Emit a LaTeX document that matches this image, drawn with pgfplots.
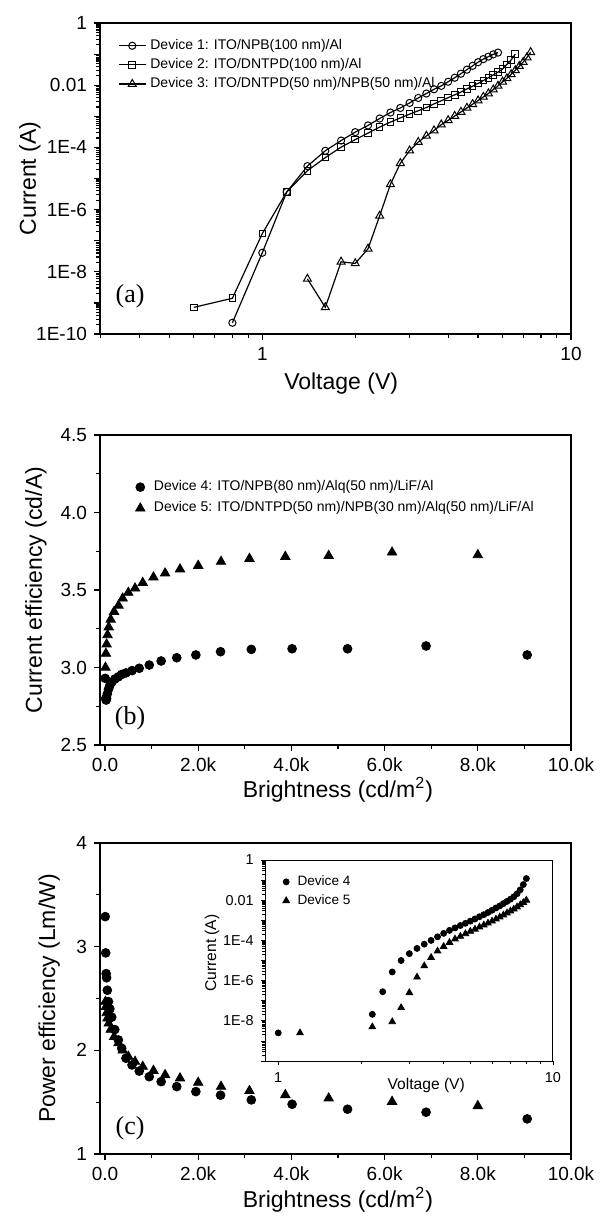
\documentclass[border=0pt]{standalone}
\usepackage{fontspec}
\setmainfont{Liberation Sans}
\newfontfamily\tmfont{Liberation Serif}
\usepackage{pgfplots}
\pgfplotsset{compat=1.18}
\pgfplotsset{
  common/.style={
    scale only axis, anchor=north west,
    axis line style={line width=0.7pt},
    every tick/.style={line width=0.6pt, black},
    tick align=outside, xtick pos=bottom, ytick pos=left,
    major tick length=3pt, minor tick length=1.8pt,
    tick label style={font=\fontsize{9.5}{11}\selectfont},
    label style={font=\fontsize{11.5}{13}\selectfont},
    /pgf/number format/assume math mode=true,
    scaled x ticks=false, scaled y ticks=false,
    every axis plot/.append style={black},
  },
  logminor/.style={minor ytick={2e-10,3e-10,4e-10,5e-10,6e-10,7e-10,8e-10,9e-10,
    2e-9,3e-9,4e-9,5e-9,6e-9,7e-9,8e-9,9e-9,
    2e-8,3e-8,4e-8,5e-8,6e-8,7e-8,8e-8,9e-8,
    2e-7,3e-7,4e-7,5e-7,6e-7,7e-7,8e-7,9e-7,
    2e-6,3e-6,4e-6,5e-6,6e-6,7e-6,8e-6,9e-6,
    2e-5,3e-5,4e-5,5e-5,6e-5,7e-5,8e-5,9e-5,
    2e-4,3e-4,4e-4,5e-4,6e-4,7e-4,8e-4,9e-4,
    2e-3,3e-3,4e-3,5e-3,6e-3,7e-3,8e-3,9e-3,
    2e-2,3e-2,4e-2,5e-2,6e-2,7e-2,8e-2,9e-2,
    0.2,0.3,0.4,0.5,0.6,0.7,0.8,0.9}},
  brightx/.style={xmin=-107, xmax=10000,
    xtick={0,2000,4000,6000,8000,10000},
    xticklabels={0.0,2.0k,4.0k,6.0k,8.0k,10.0k},
    minor xtick={1000,3000,5000,7000,9000},
    xlabel={Brightness (cd/m\textsuperscript{2})}},
}
\begin{document}
\begin{tikzpicture}
\useasboundingbox (0,0) rectangle (300pt,-608pt);
% ---------------- (a)
\begin{axis}[common, at={(50pt,-11.5pt)}, width=235.5pt, height=155.5pt,
  xmode=log, ymode=log, xmin=0.298, xmax=10, ymin=1e-10, ymax=1,
  xtick={1,10}, xticklabels={1,10},
  minor xtick={0.3,0.4,0.5,0.6,0.7,0.8,0.9,2,3,4,5,6,7,8,9},
  ytick={1e-10,1e-9,1e-8,1e-7,1e-6,1e-5,1e-4,1e-3,1e-2,1e-1,1},
  yticklabels={1E-10,,1E-8,,1E-6,,1E-4,,0.01,,1}, logminor,
  xlabel={Voltage (V)}, ylabel={Current (A)},
  xlabel style={at={(axis description cs:0.512,-0.158)}, anchor=center},
  ylabel style={at={(axis description cs:-0.149,0.5)}, anchor=center},
  legend style={at={(axis description cs:0.025,0.975)}, anchor=north west,
    draw=none, fill=none, font=\fontsize{7}{8}\selectfont, row sep=-1pt,
    cells={anchor=west}},
  legend image code/.code={\draw[#1, mark repeat=2, mark phase=2] plot coordinates {(0pt,0pt) (6.75pt,0pt) (13.5pt,0pt)};},
]
\addplot[line width=0.6pt, mark=o, mark size=1.8pt, mark options={fill=white, line width=0.5pt}] coordinates {
(0.8,2.3e-10) (1.0,4.1e-8) (1.2,3.7e-6) (1.4,2.5e-5) (1.6,7.8e-5) (1.8,1.66e-4)
(2.0,3.1e-4) (2.2,5.1e-4) (2.4,8.5e-4) (2.6,1.32e-3) (2.8,1.86e-3) (3.0,2.69e-3)
(3.2,3.9e-3) (3.4,5.4e-3) (3.6,7.4e-3) (3.8,9.5e-3) (4.0,1.29e-2) (4.2,1.74e-2)
(4.4,2.34e-2) (4.6,3.16e-2) (4.8,4.2e-2) (5.0,5.5e-2) (5.2,6.9e-2) (5.4,8.3e-2)
(5.6,9.8e-2) (5.8,1.12e-1)};
\addlegendentry{Device 1: ITO/NPB(100 nm)/Al}
\addplot[line width=0.6pt, mark=square, mark size=1.65pt, mark options={fill=white, line width=0.5pt}] coordinates {
(0.6,7.2e-10) (0.8,1.41e-9) (1.0,1.7e-7) (1.2,3.7e-6) (1.4,1.78e-5) (1.6,4.7e-5)
(1.8,1.02e-4) (2.0,1.78e-4) (2.2,2.88e-4) (2.4,4.5e-4) (2.6,6.5e-4) (2.8,8.9e-4)
(3.0,1.17e-3) (3.2,1.51e-3) (3.4,1.91e-3) (3.6,2.51e-3) (3.8,3.16e-3) (4.0,3.98e-3)
(4.2,4.9e-3) (4.4,6.0e-3) (4.6,7.6e-3) (4.8,9.3e-3) (5.0,1.15e-2) (5.2,1.41e-2)
(5.4,1.74e-2) (5.6,2.14e-2) (5.8,2.63e-2) (6.0,3.3e-2) (6.2,4.7e-2) (6.4,6.5e-2)
(6.6,1.0e-1)};
\addlegendentry{Device 2: ITO/DNTPD(100 nm)/Al}
\addplot[line width=0.6pt, mark=triangle, mark size=2.3pt, mark options={fill=white, line width=0.5pt}] coordinates {
(1.4,5.9e-9) (1.6,7.2e-10) (1.8,2.1e-8) (2.0,1.86e-8) (2.2,5.5e-8) (2.4,6.3e-7)
(2.6,6.5e-6) (2.8,3.1e-5) (3.0,7.9e-5) (3.2,1.48e-4) (3.4,2.34e-4) (3.6,3.5e-4)
(3.8,5.4e-4) (4.0,7.4e-4) (4.2,1.02e-3) (4.4,1.38e-3) (4.6,1.86e-3) (4.8,2.45e-3)
(5.0,3.2e-3) (5.2,4.2e-3) (5.4,5.4e-3) (5.6,7.2e-3) (5.8,9.5e-3) (6.0,1.29e-2)
(6.2,1.66e-2) (6.4,2.24e-2) (6.6,3.0e-2) (6.8,4.1e-2) (7.0,5.5e-2) (7.2,7.8e-2)
(7.4,1.15e-1)};
\addlegendentry{Device 3: ITO/DNTPD(50 nm)/NPB(50 nm)/Al}
\node[font=\tmfont\fontsize{13}{15}\selectfont] at (rel axis cs:0.064,0.12) {(a)};
\end{axis}
% ---------------- (b)
\begin{axis}[common, at={(50pt,-217.5pt)}, width=235.5pt, height=155pt,
  brightx, ymin=2.5, ymax=4.5,
  ytick={2.5,3.0,3.5,4.0,4.5}, yticklabels={2.5,3.0,3.5,4.0,4.5},
  minor ytick={2.75,3.25,3.75,4.25},
  ylabel={Current efficiency (cd/A)},
  xlabel style={at={(axis description cs:0.505,-0.145)}, anchor=center},
  ylabel style={at={(axis description cs:-0.136,0.5)}, anchor=center},
  legend style={at={(axis description cs:0.062,0.88)}, anchor=north west,
    draw=none, fill=none, font=\fontsize{7}{8}\selectfont, row sep=0pt,
    cells={anchor=west}, /tikz/every odd column/.append style={column sep=2.5pt}},
]
\addplot[only marks, mark=*, mark size=2.2pt] coordinates {
(5,2.93) (15,2.80) (25,2.79) (35,2.80) (50,2.83) (75,2.86) (105,2.885) (145,2.905)
(210,2.925) (287,2.94) (358,2.955) (450,2.965) (580,2.98) (735,2.995) (950,3.016)
(1205,3.042) (1540,3.063) (1950,3.081) (2480,3.102) (3140,3.117) (4015,3.121)
(5205,3.121) (6890,3.139) (9060,3.081)};
\addlegendentry{Device 4: ITO/NPB(80 nm)/Alq(50 nm)/LiF/Al}
\addplot[only marks, mark=triangle*, mark size=2.7pt] coordinates {
(10,3.00) (20,3.09) (35,3.15) (55,3.21) (80,3.26) (122,3.31) (195,3.36) (290,3.40)
(380,3.446) (500,3.483) (645,3.511) (810,3.547) (1040,3.582) (1290,3.608)
(1610,3.634) (2000,3.657) (2490,3.683) (3100,3.702) (3870,3.715) (4800,3.721)
(6160,3.743) (8000,3.726)};
\addlegendentry{Device 5: ITO/DNTPD(50 nm)/NPB(30 nm)/Alq(50 nm)/LiF/Al}
\node[font=\tmfont\fontsize{13}{15}\selectfont] at (rel axis cs:0.064,0.087) {(b)};
\end{axis}
% ---------------- (c)
\begin{axis}[common, at={(50pt,-421.5pt)}, width=235.5pt, height=155.5pt,
  brightx, ymin=1, ymax=4,
  ytick={1,2,3,4}, minor ytick={1.5,2.5,3.5},
  ylabel={Power efficiency (Lm/W)},
  xlabel style={at={(axis description cs:0.505,-0.146)}, anchor=center},
  ylabel style={at={(axis description cs:-0.108,0.5)}, anchor=center},
]
\addplot[only marks, mark=*, mark size=2.2pt] coordinates {
(5,3.29) (15,2.94) (25,2.74) (35,2.70) (50,2.58) (75,2.47) (105,2.40) (145,2.32)
(210,2.20) (287,2.10) (358,2.02) (450,1.924) (580,1.859) (735,1.80) (950,1.746)
(1205,1.698) (1540,1.65) (1950,1.602) (2480,1.567) (3140,1.522) (4015,1.48)
(5205,1.432) (6890,1.403) (9060,1.339)};
\addplot[only marks, mark=triangle*, mark size=2.7pt] coordinates {
(10,2.47) (20,2.42) (35,2.36) (55,2.31) (80,2.26) (122,2.20) (195,2.13) (290,2.07)
(380,2.00) (500,1.94) (645,1.891) (810,1.843) (1040,1.804) (1290,1.763)
(1610,1.731) (2000,1.689) (2490,1.65) (3100,1.609) (3870,1.57) (4800,1.538)
(6160,1.505) (8000,1.464)};
\node[font=\tmfont\fontsize{13}{15}\selectfont] at (rel axis cs:0.064,0.084) {(c)};
\end{axis}
% ---------------- inset
\begin{axis}[common, at={(132.5pt,-430pt)}, width=144pt, height=100.5pt,
  axis background/.style={fill=white},
  axis line style={line width=0.5pt},
  every tick/.style={line width=0.4pt, black},
  major tick length=2.2pt, minor tick length=1.3pt,
  tick label style={font=\fontsize{7.2}{8}\selectfont},
  label style={font=\fontsize{7.8}{9}\selectfont},
  xmode=log, ymode=log, xmin=0.895, xmax=10, ymin=1e-10, ymax=1,
  xtick={1,10}, xticklabels={1,10}, minor xtick={2,3,4,5,6,7,8,9},
  ytick={1e-10,1e-9,1e-8,1e-7,1e-6,1e-5,1e-4,1e-3,1e-2,1e-1,1},
  yticklabels={,,1E-8,,1E-6,,1E-4,,0.01,,1}, logminor,
  xlabel={Voltage (V)}, ylabel={Current (A)},
  xlabel style={at={(axis description cs:0.56,-0.12)}, anchor=center},
  ylabel style={at={(axis description cs:-0.184,0.537)}, anchor=center},
  legend style={at={(axis description cs:0.04,0.965)}, anchor=north west,
    draw=none, fill=none, font=\fontsize{6.8}{8}\selectfont, row sep=-1pt,
    cells={anchor=west}, /tikz/every odd column/.append style={column sep=2pt}},
]
\addplot[only marks, mark=*, mark size=1.5pt] coordinates {
(1.0,2.5e-9) (2.2,2.1e-8) (2.4,2.8e-7) (2.6,2.7e-6) (2.8,1e-5) (3.0,2.2e-5)
(3.2,4.0e-5) (3.4,6.5e-5) (3.6,1e-4) (3.8,1.51e-4) (4.0,2.24e-4) (4.2,3.16e-4)
(4.4,4.2e-4) (4.6,5.5e-4) (4.8,7.1e-4) (5.0,9.1e-4) (5.2,1.17e-3) (5.4,1.51e-3)
(5.6,1.91e-3) (5.8,2.45e-3) (6.0,3.16e-3) (6.2,4.1e-3) (6.4,5.2e-3) (6.6,6.8e-3)
(6.8,8.7e-3) (7.0,1.12e-2) (7.2,1.48e-2) (7.4,2.1e-2) (7.6,3.3e-2) (7.8,6.0e-2)
(8.0,1.2e-1)};
\addlegendentry{Device 4}
\addplot[only marks, mark=triangle*, mark size=1.9pt] coordinates {
(1.2,2.5e-9) (2.2,5e-9) (2.6,8.9e-9) (2.8,4.5e-8) (3.0,2.5e-7) (3.2,1.48e-6)
(3.4,5.4e-6) (3.6,1.41e-5) (3.8,2.95e-5) (4.0,5.0e-5) (4.2,7.9e-5) (4.4,1.17e-4)
(4.6,1.58e-4) (4.8,2.14e-4) (5.0,2.8e-4) (5.2,3.6e-4) (5.4,4.6e-4) (5.6,5.8e-4)
(5.8,7.2e-4) (6.0,9.1e-4) (6.2,1.15e-3) (6.4,1.45e-3) (6.6,1.82e-3) (6.8,2.3e-3)
(7.0,2.9e-3) (7.2,3.6e-3) (7.4,4.6e-3) (7.6,5.9e-3) (7.8,7.6e-3) (8.0,1.0e-2)};
\addlegendentry{Device 5}
\end{axis}
\end{tikzpicture}
\end{document}
